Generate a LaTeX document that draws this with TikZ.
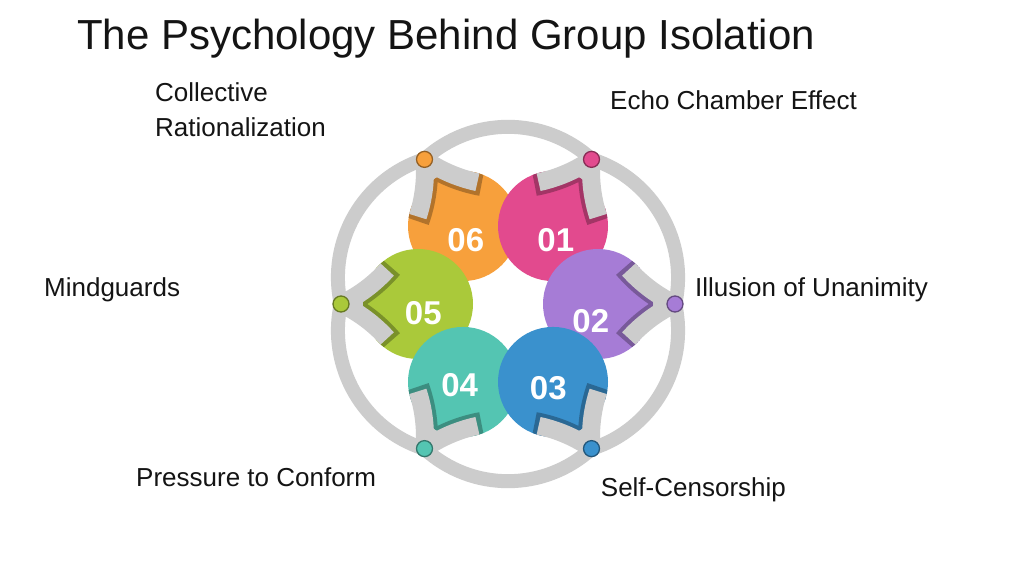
\documentclass[tikz,border=0pt]{standalone}
\usepackage{fontspec}
\setmainfont{Liberation Sans}
\definecolor{ringgray}{RGB}{204,204,204}
\definecolor{cOne}{RGB}{226,74,142}
\definecolor{cTwo}{RGB}{166,124,214}
\definecolor{cThree}{RGB}{58,145,205}
\definecolor{cFour}{RGB}{84,197,178}
\definecolor{cFive}{RGB}{170,201,58}
\definecolor{cSix}{RGB}{247,160,60}
\definecolor{inkc}{RGB}{20,20,20}
\begin{document}
\begin{tikzpicture}[x=1pt,y=1pt,
  ring/.style={draw=ringgray, line width=14pt},
  innerring/.style={draw=ringgray, line width=18pt},
  num/.style={text=white, font=\fontsize{33}{33}\selectfont\bfseries, inner sep=0pt, anchor=center},
  lbl/.style={font=\fontsize{26}{30}\selectfont, text=inkc, inner sep=0pt, anchor=base west},
  dotmark/.style={line width=1.3pt}]
\useasboundingbox (0,0) rectangle (1024,576);
\fill[white] (0,0) rectangle (1024,576);
\node[font=\fontsize{42}{48}\selectfont, text=inkc, inner sep=0pt, anchor=base west] (title) at (77,526) {The Psychology Behind Group Isolation};
\begin{scope}[shift={(508,272)}]
  % outer lens arcs
  \foreach \p in {30,90,150,210,270,330} {
    \draw[ring] (\p:53.2) ++(\p-42.4:124) arc[start angle=\p-42.4, end angle=\p+42.4, radius=124];
  }
  % gray wedges between dots and petals
  \foreach \a in {0,60,...,300} {
    \fill[ringgray, shift={(\a:90)}, rotate=\a] (77,0) -- (42,26) -- (42,-26) -- cycle;
  }
  % petals with the inner arcs passing over them near the dots
  \foreach \a/\c in {120/cSix, 60/cOne, 0/cTwo, 180/cFive, 240/cFour, 300/cThree} {
    \fill[\c] (\a:90) circle (55);
    \begin{scope}
      \clip (\a:90) circle (55);
      \draw[\c!72!black, line width=22pt] (\a-30:265.7) ++(\a+115.4:149.1) arc[start angle=\a+115.4, end angle=\a+139.7, radius=149.1];
      \draw[\c!72!black, line width=22pt] (\a+30:265.7) ++(\a+244.6:149.1) arc[start angle=\a+244.6, end angle=\a+220.3, radius=149.1];
    \end{scope}
    \draw[innerring] (\a-30:265.7) ++(\a+115.4:147.1) arc[start angle=\a+115.4, end angle=\a+138, radius=147.1];
    \draw[innerring] (\a+30:265.7) ++(\a+244.6:147.1) arc[start angle=\a+244.6, end angle=\a+222, radius=147.1];
  }
  % dots
  \foreach \a/\c in {120/cSix, 60/cOne, 0/cTwo, 180/cFive, 240/cFour, 300/cThree} {
    \filldraw[dotmark, fill=\c, draw=\c!60!black] (\a:167) circle (8);
  }
\end{scope}
% numbers
\node[num] (n06) at (465.8,336) {06};
\node[num] (n01) at (555.8,335.5) {01};
\node[num] (n02) at (590.8,255.2) {02};
\node[num] (n03) at (548.3,187.7) {03};
\node[num] (n04) at (459.7,191) {04};
\node[num] (n05) at (423.3,263) {05};
% labels
\node[lbl] (l06a) at (155,474.3) {Collective};
\node[lbl] (l06b) at (155,439.3) {Rationalization};
\node[lbl] (l01) at (610,466) {Echo Chamber Effect};
\node[lbl] (l02) at (695,279.3) {Illusion of Unanimity};
\node[lbl] (l05) at (44,279.3) {Mindguards};
\node[lbl] (l04) at (136,90) {Pressure to Conform};
\node[lbl] (l03) at (600.7,80) {Self-Censorship};
\end{tikzpicture}
\end{document}
